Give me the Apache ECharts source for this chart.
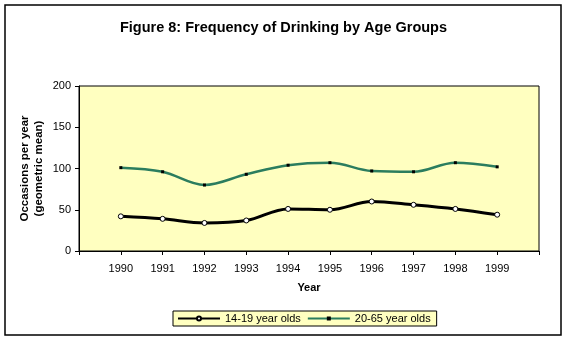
<!DOCTYPE html>
<html>
<head>
<meta charset="utf-8">
<script src="https://cdn.jsdelivr.net/npm/echarts@6/dist/echarts.min.js"></script>
<style>
  html, body { margin: 0; padding: 0; background: #fff; }
  #chart { width: 567px; height: 340px; }
</style>
</head>
<body>
<div id="chart"></div>
<script>
// data
var years = [1990, 1991, 1992, 1993, 1994, 1995, 1996, 1997, 1998, 1999];
var teens = [42, 39, 34, 37, 51, 50, 60, 56, 51, 44];      // 14-19 year olds
var adults = [101, 96, 80, 93, 104, 107, 97, 96, 107, 102]; // 20-65 year olds
var yTicks = [0, 50, 100, 150, 200];

function pairs(xs, ys) {
  return xs.map(function (x, i) { return [x, ys[i]]; });
}

var dom = document.getElementById('chart');
var myChart = echarts.init(dom, null, { renderer: 'canvas' });
var font = 'Arial, "Liberation Sans", sans-serif';

var option = {
  backgroundColor: '#fff',
  animation: false,
  textStyle: { fontFamily: font, color: '#000' },
  title: {
    text: 'Figure 8: Frequency of Drinking by Age Groups',
    left: 'center',
    top: 15,
    textStyle: { fontSize: 14.5, fontWeight: 'bold', color: '#000', fontFamily: font }
  },
  graphic: [{
    type: 'rect',
    shape: { x: 5, y: 5, width: 556, height: 330 },
    style: { fill: 'none', stroke: '#000', lineWidth: 1.5 },
    silent: true
  }],
  grid: {
    left: 79, top: 86, right: 28, bottom: 89,
    show: true,
    backgroundColor: '#ffffc0',
    borderColor: '#000',
    borderWidth: 1
  },
  legend: {
    left: 173,
    top: 311,
    padding: [2, 6, 2, 4],
    itemGap: 6,
    itemWidth: 42,
    itemHeight: 5,
    backgroundColor: '#ffffc0',
    borderColor: '#000',
    borderWidth: 1,
    textStyle: { fontSize: 11, color: '#000', fontFamily: font },
    data: ['14-19 year olds', '20-65 year olds']
  },
  xAxis: {
    type: 'value',
    min: 1989,
    max: 2000,
    interval: 1,
    name: 'Year',
    nameLocation: 'middle',
    nameGap: 31,
    nameMoveOverlap: false,
    nameTextStyle: { fontSize: 11, fontWeight: 'bold', color: '#000' },
    axisLine: { lineStyle: { color: '#000', width: 1 } },
    axisTick: { show: true, length: 4, lineStyle: { color: '#000' } },
    splitLine: { show: false },
    axisLabel: {
      fontSize: 11, color: '#000', margin: 12,
      showMinLabel: true, showMaxLabel: true,
      formatter: function (v) { return years.indexOf(v) >= 0 ? String(v) : ''; }
    }
  },
  yAxis: {
    type: 'value',
    min: yTicks[0],
    max: yTicks[yTicks.length - 1],
    interval: yTicks[1] - yTicks[0],
    name: 'Occasions per year\n(geometric mean)',
    nameLocation: 'middle',
    nameGap: 33,
    nameMoveOverlap: false,
    nameRotate: 90,
    nameTextStyle: { fontSize: 11.5, fontWeight: 'bold', color: '#000', lineHeight: 14 },
    axisLine: { show: true, lineStyle: { color: '#000', width: 1 } },
    axisTick: { show: true, length: 4, lineStyle: { color: '#000' } },
    splitLine: { show: false },
    axisLabel: { fontSize: 11, color: '#000', margin: 8 }
  },
  series: [
    {
      name: '14-19 year olds',
      type: 'line',
      data: pairs(years, teens),
      smooth: 0.35,
      symbol: 'circle',
      symbolSize: 5,
      lineStyle: { color: '#000', width: 3 },
      itemStyle: { color: '#fff', borderColor: '#000', borderWidth: 1 }
    },
    {
      name: '20-65 year olds',
      type: 'line',
      data: pairs(years, adults),
      smooth: 0.35,
      symbol: 'rect',
      symbolSize: 3,
      lineStyle: { color: '#2b7d5e', width: 2.5 },
      itemStyle: { color: '#000', borderWidth: 0 }
    }
  ]
};

myChart.setOption(option);
window.addEventListener('resize', myChart.resize);
</script>
</body>
</html>
